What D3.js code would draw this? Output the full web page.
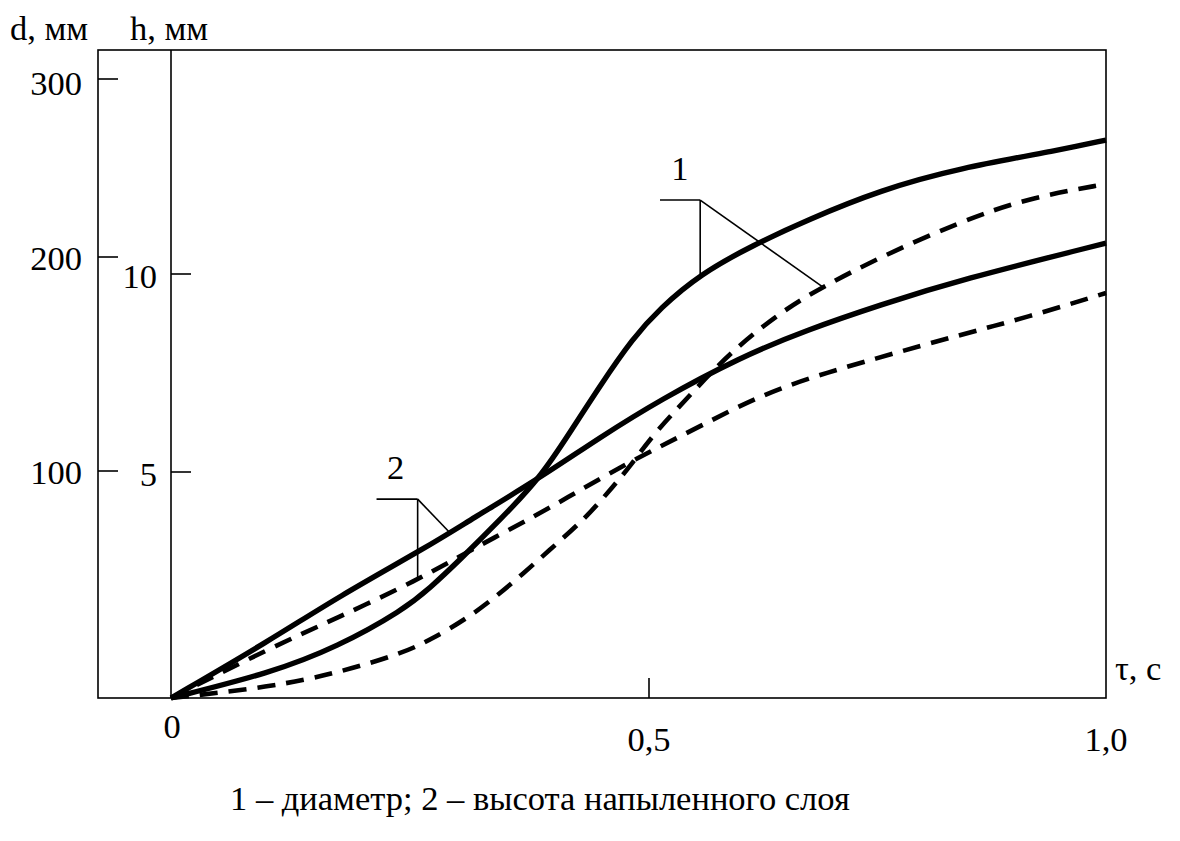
<!DOCTYPE html>
<html>
<head>
<meta charset="utf-8">
<script src="https://cdn.jsdelivr.net/npm/d3@7"></script>
<style>
  html, body { margin: 0; padding: 0; background: #fff; }
  svg text { font-family: "Liberation Serif", "Times New Roman", serif; fill: #000; }
</style>
</head>
<body>
<svg id="chart" width="1180" height="841"></svg>
<script>
// Time, s
const tauTicks = [0, 0.5, 1.0];
const tauTickLabels = ["0", "0,5", "1,0"];
// Diameter scale, mm
const dTicks = [100, 200, 300];
const dTickLabels = ["100", "200", "300"];
// Layer height scale, mm
const hTicks = [5, 10];
const hTickLabels = ["5", "10"];

// Curve 1 – diameter d (mm) over time τ (s)
const diamSolid = [
  [0, 0], [0.104, 11.0], [0.174, 22.5], [0.243, 38.8], [0.271, 48.5], [0.302, 60.8],
  [0.344, 78.4], [0.386, 96.9], [0.417, 117.8], [0.449, 140.0], [0.483, 162.0],
  [0.512, 176.0], [0.556, 192.0], [0.614, 206.7], [0.673, 220.8], [0.753, 237.6],
  [0.840, 250.0], [0.950, 260.1], [1.0, 265.7]
];
const diamDashed = [
  [0, 0], [0.104, 4.8], [0.174, 11.0], [0.243, 19.8], [0.271, 25.6], [0.313, 35.7],
  [0.355, 49.8], [0.396, 65.2], [0.435, 79.7], [0.462, 93.0], [0.483, 103.7],
  [0.504, 116.8], [0.545, 135.5], [0.589, 155.6], [0.647, 175.2], [0.690, 186.0],
  [0.753, 200.0], [0.840, 219.7], [0.914, 233.1], [1.0, 241.0]
];
// Curve 2 – sprayed layer height h (mm) over time τ (s)
const heightSolid = [
  [0, 0], [0.104, 1.28], [0.174, 2.23], [0.271, 3.38], [0.313, 3.94], [0.386, 4.87],
  [0.449, 5.88], [0.512, 6.82], [0.600, 7.90], [0.673, 8.59], [0.753, 9.22],
  [0.840, 9.85], [1.0, 10.78]
];
const heightDashed = [
  [0, 0], [0.104, 1.11], [0.174, 1.77], [0.258, 2.61], [0.313, 3.27], [0.379, 4.00],
  [0.428, 4.60], [0.483, 5.30], [0.556, 6.15], [0.636, 7.12], [0.753, 7.90],
  [0.840, 8.46], [0.914, 8.91], [1.0, 9.52]
];

// Callout labels: text, anchor in data units, points the leaders reach
const callout1 = { text: "1", tau: 0.556, d: 232, tick: 0.512, hit: [[0.556, 192.0], [0.690, 186.0]] };
const callout2 = { text: "2", tau: 0.258, h: 4.4, tick: 0.215, hitSolid: [0.292, 3.65], hitDashed: [0.258, 2.61] };
const caption = "1 – диаметр; 2 – высота напыленного слоя";

const svg = d3.select("#chart");
const frame = { left: 98, top: 50, right: 1106, bottom: 698 };
const originX = 171;

const x = d3.scaleLinear().domain(tauTicks).range([originX, 649, frame.right]);
const yD = d3.scaleLinear().domain([0, 100, 200, 300]).range([frame.bottom, 471, 257, 79]);
const yH = d3.scaleLinear().domain([0, 5, 10]).range([frame.bottom, 472, 274]);

// Frame and inner h-axis
svg.append("rect")
  .attr("x", frame.left).attr("y", frame.top)
  .attr("width", frame.right - frame.left).attr("height", frame.bottom - frame.top)
  .attr("fill", "none").attr("stroke", "#000").attr("stroke-width", 1.6);
svg.append("line")
  .attr("x1", x(0)).attr("x2", x(0)).attr("y1", frame.top).attr("y2", frame.bottom)
  .attr("stroke", "#000").attr("stroke-width", 1.6);

const fs = 34.5;

// d ticks on the left frame edge
const dG = svg.append("g");
dTicks.forEach((v, i) => {
  dG.append("line").attr("x1", frame.left).attr("x2", frame.left + 20)
    .attr("y1", yD(v)).attr("y2", yD(v)).attr("stroke", "#000").attr("stroke-width", 1.6);
  dG.append("text").attr("x", 82).attr("y", yD(v) + (v === 300 ? 16 : 13))
    .attr("text-anchor", "end").attr("font-size", fs).text(dTickLabels[i]);
});

// h ticks on the inner axis
const hG = svg.append("g");
hTicks.forEach((v, i) => {
  hG.append("line").attr("x1", x(0)).attr("x2", x(0) + 20)
    .attr("y1", yH(v)).attr("y2", yH(v)).attr("stroke", "#000").attr("stroke-width", 1.6);
  hG.append("text").attr("x", 157).attr("y", yH(v) + 14)
    .attr("text-anchor", "end").attr("font-size", fs).text(hTickLabels[i]);
});

// τ ticks
const xG = svg.append("g");
tauTicks.forEach((v, i) => {
  if (v > 0 && v < 1) {
    xG.append("line").attr("x1", x(v)).attr("x2", x(v))
      .attr("y1", frame.bottom).attr("y2", frame.bottom - 20)
      .attr("stroke", "#000").attr("stroke-width", 1.6);
  }
  xG.append("text").attr("x", x(v) + (v === 0 ? 1 : 0)).attr("y", v === 0 ? 738 : 751)
    .attr("text-anchor", "middle").attr("font-size", fs).text(tauTickLabels[i]);
});

// Axis titles
svg.append("text").attr("x", 10).attr("y", 40).attr("font-size", fs).text("d, мм");
svg.append("text").attr("x", 130).attr("y", 40).attr("font-size", fs).text("h, мм");
svg.append("text").attr("x", 1115).attr("y", 680).attr("font-size", fs).text("τ, с");

// Curves (B-spline through the read points keeps them smooth)
const lineD = d3.line().x(p => x(p[0])).y(p => yD(p[1])).curve(d3.curveBasis);
const lineH = d3.line().x(p => x(p[0])).y(p => yH(p[1])).curve(d3.curveBasis);
const curves = svg.append("g").attr("fill", "none").attr("stroke", "#000");
curves.append("path").attr("d", lineH(heightDashed)).attr("stroke-width", 4.6).attr("stroke-dasharray", "18,11");
curves.append("path").attr("d", lineD(diamDashed)).attr("stroke-width", 4.6).attr("stroke-dasharray", "18,11");
curves.append("path").attr("d", lineH(heightSolid)).attr("stroke-width", 5.4);
curves.append("path").attr("d", lineD(diamSolid)).attr("stroke-width", 5.4);

// Callout 1
const c1 = svg.append("g").attr("stroke", "#000").attr("stroke-width", 1.6).attr("fill", "none");
const c1x = x(callout1.tau), c1y = yD(callout1.d);
c1.append("line").attr("x1", x(callout1.tick)).attr("x2", c1x).attr("y1", c1y).attr("y2", c1y);
callout1.hit.forEach(p => {
  c1.append("line").attr("x1", c1x).attr("y1", c1y).attr("x2", x(p[0])).attr("y2", yD(p[1]));
});
svg.append("text").attr("x", x(callout1.tick) + 20).attr("y", c1y - 20)
  .attr("text-anchor", "middle").attr("font-size", fs).text(callout1.text);

// Callout 2
const c2 = svg.append("g").attr("stroke", "#000").attr("stroke-width", 1.6).attr("fill", "none");
const c2x = x(callout2.tau), c2y = yH(callout2.h);
c2.append("line").attr("x1", x(callout2.tick)).attr("x2", c2x).attr("y1", c2y).attr("y2", c2y);
c2.append("line").attr("x1", c2x).attr("y1", c2y).attr("x2", x(callout2.hitSolid[0])).attr("y2", yH(callout2.hitSolid[1]));
c2.append("line").attr("x1", c2x).attr("y1", c2y).attr("x2", x(callout2.hitDashed[0])).attr("y2", yH(callout2.hitDashed[1]));
svg.append("text").attr("x", x(callout2.tick) + 19).attr("y", c2y - 20)
  .attr("text-anchor", "middle").attr("font-size", fs).text(callout2.text);

// Caption
svg.append("text").attr("x", 230).attr("y", 810).attr("font-size", fs).text(caption);
</script>
</body>
</html>
